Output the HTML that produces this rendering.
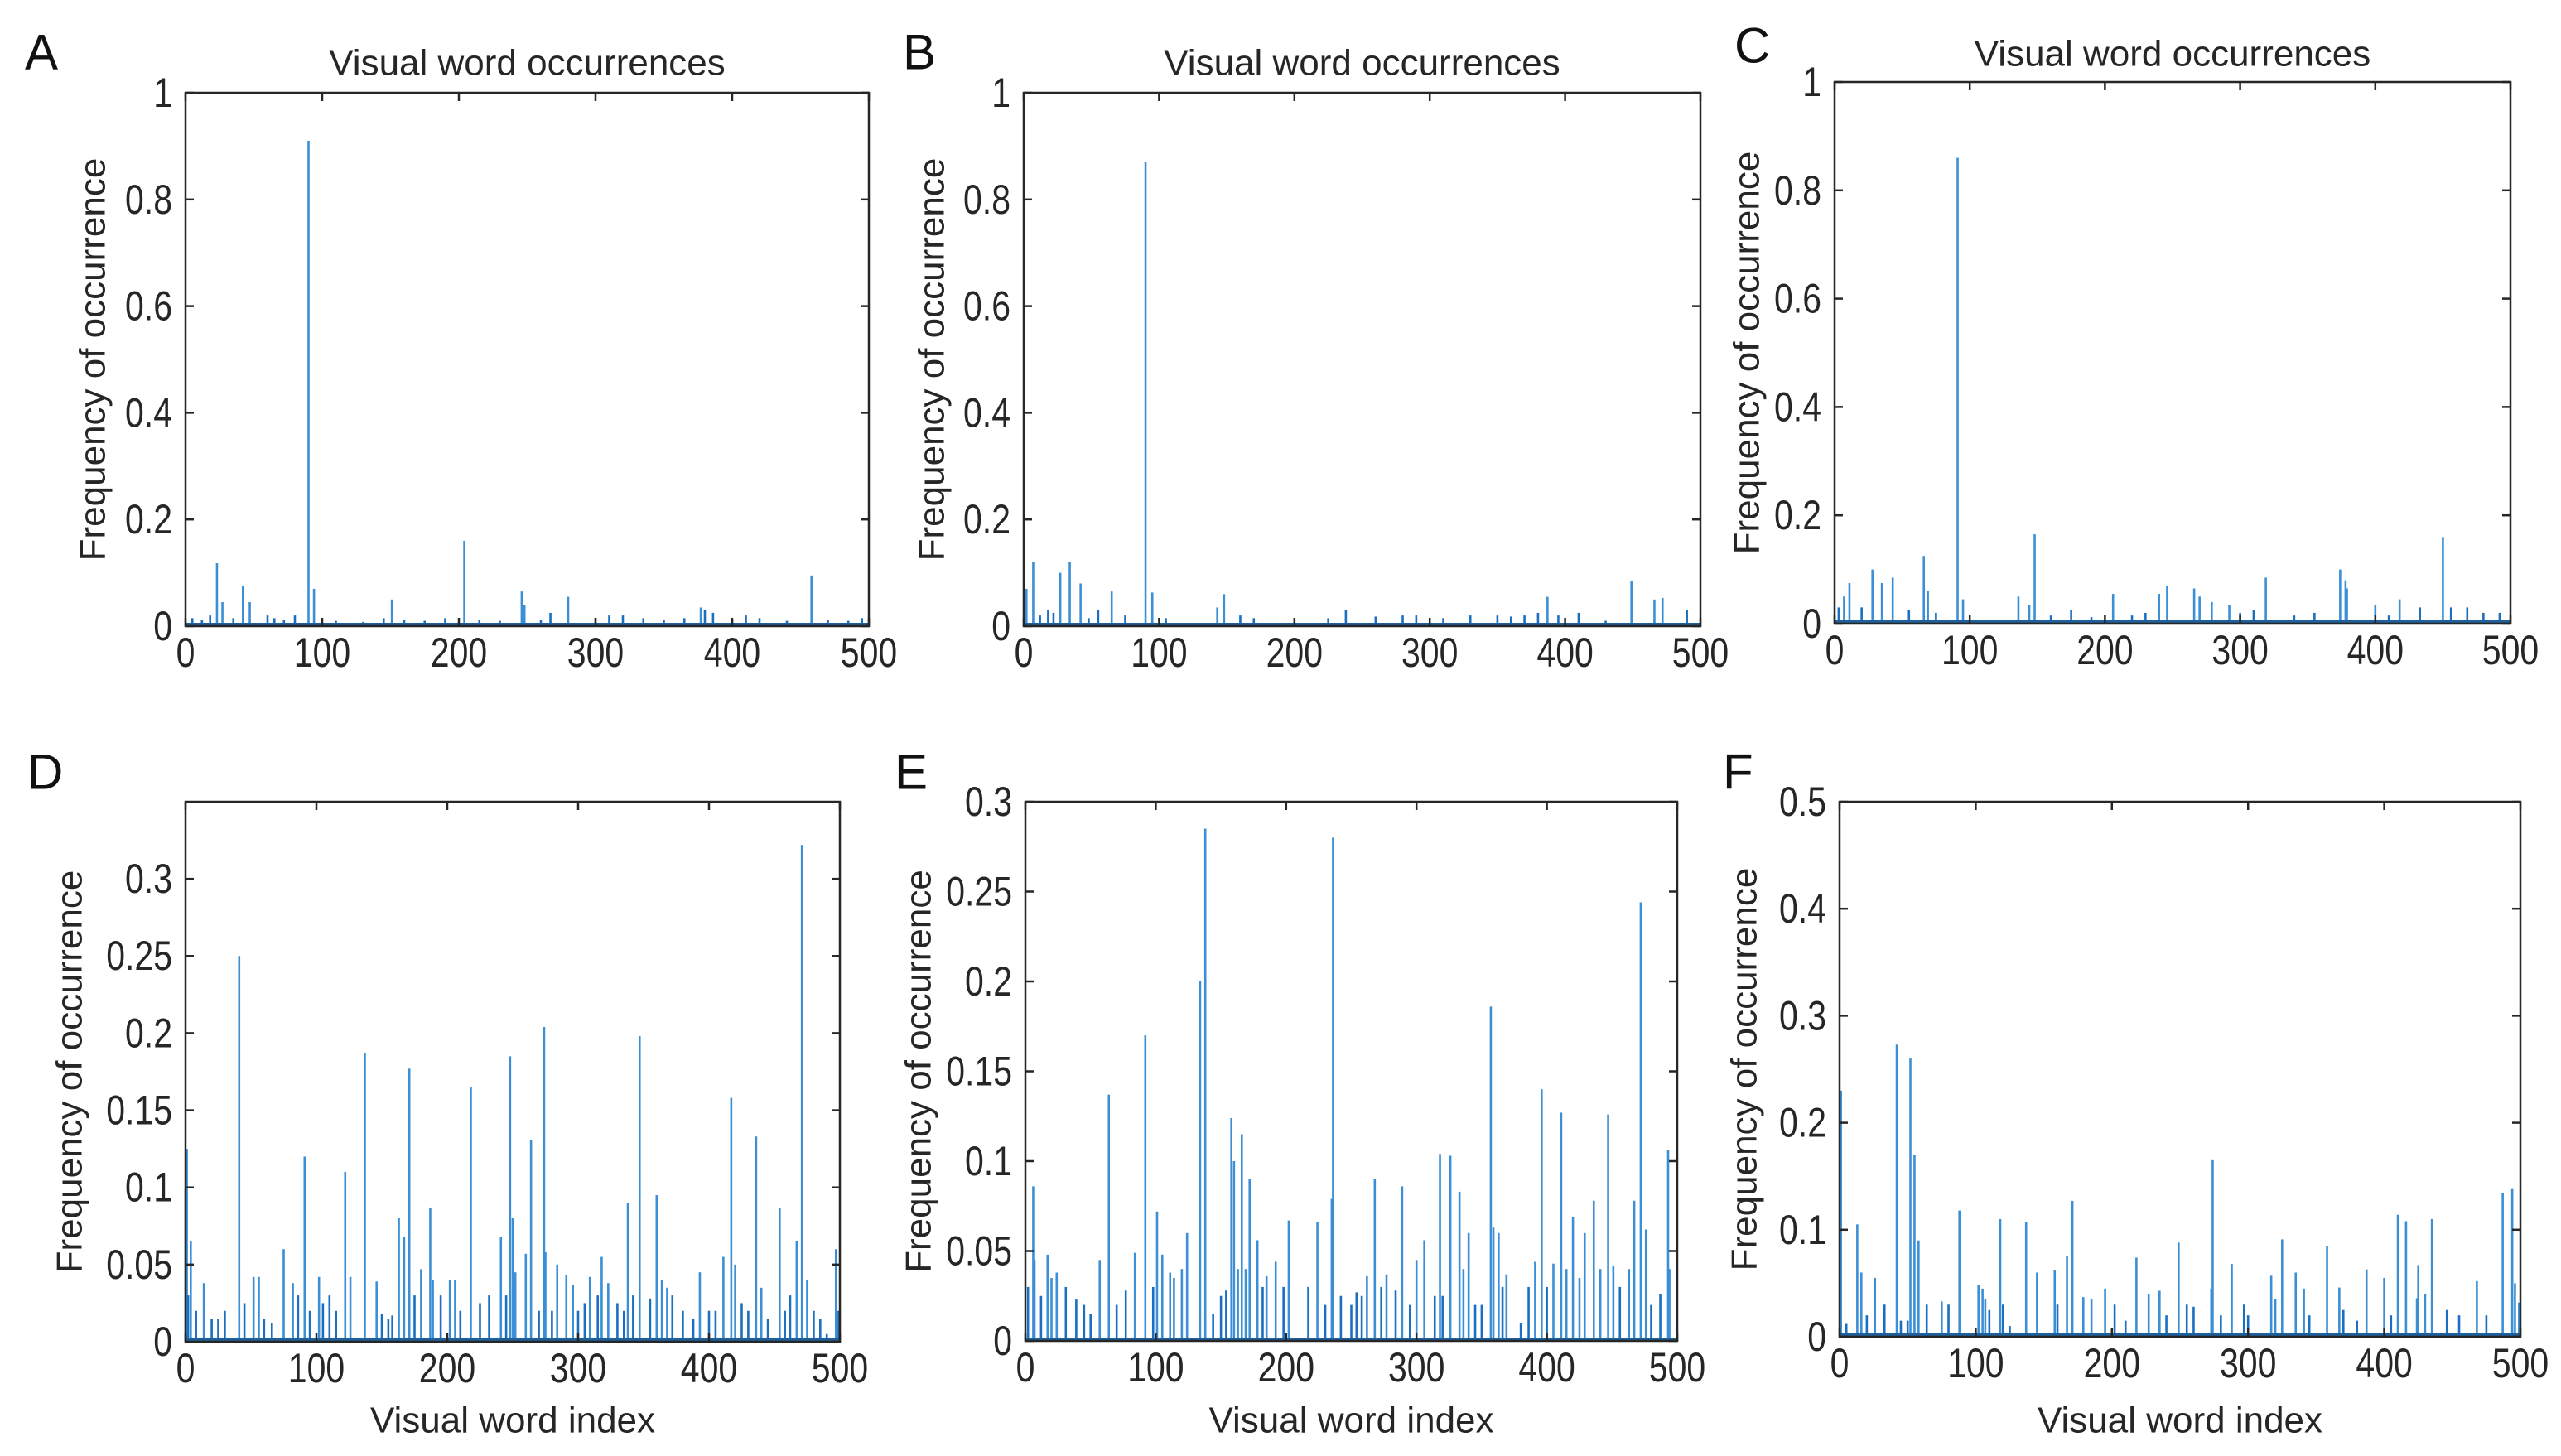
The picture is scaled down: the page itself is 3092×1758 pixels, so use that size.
<!DOCTYPE html>
<html><head><meta charset="utf-8"><title>Visual word occurrences</title>
<style>
html,body{margin:0;padding:0;background:#fff;}
svg{display:block;font-family:"Liberation Sans",Arial,sans-serif;}
</style></head>
<body>
<svg id="fig" width="3092" height="1758" viewBox="0 0 3092 1758" xmlns="http://www.w3.org/2000/svg"></svg>
<script>
// ---- Data: visual word indices and frequencies ----
const xTickLabels = ["0","100","200","300","400","500"];
const yTicksTop = [0,0.2,0.4,0.6,0.8,1];
const yTickLabelsTop = ["0","0.2","0.4","0.6","0.8","1"];
const yTicksD = [0,0.05,0.1,0.15,0.2,0.25,0.3];
const yTickLabelsD = ["0","0.05","0.1","0.15","0.2","0.25","0.3"];
const yTicksE = [0,0.05,0.1,0.15,0.2,0.25,0.3];
const yTickLabelsE = ["0","0.05","0.1","0.15","0.2","0.25","0.3"];
const yTicksF = [0,0.1,0.2,0.3,0.4,0.5];
const yTickLabelsF = ["0","0.1","0.2","0.3","0.4","0.5"];

const idxA = [23,27,42,47,90,94,151,204,246,248,267,280,377,380,386,458,5,12,18,35,60,65,72,80,110,130,145,160,175,190,215,230,260,300,310,320,335,350,365,400,410,420,440,470,485,495];
const valA = [0.118,0.045,0.075,0.045,0.91,0.07,0.05,0.16,0.065,0.04,0.025,0.055,0.035,0.03,0.025,0.095,0.015,0.012,0.02,0.015,0.02,0.015,0.012,0.02,0.01,0.008,0.015,0.012,0.01,0.015,0.012,0.01,0.012,0.015,0.02,0.02,0.015,0.012,0.015,0.012,0.02,0.015,0.01,0.012,0.01,0.015];

const idxB = [2,7,18,27,34,42,55,65,90,95,143,148,238,387,449,466,472,490,12,22,48,75,105,160,170,200,225,260,280,290,310,330,350,360,370,380,395,410,430];
const valB = [0.07,0.12,0.03,0.1,0.12,0.08,0.03,0.065,0.87,0.063,0.035,0.06,0.03,0.055,0.085,0.05,0.053,0.03,0.02,0.025,0.015,0.02,0.015,0.02,0.015,0.01,0.015,0.018,0.02,0.02,0.015,0.02,0.02,0.018,0.02,0.025,0.02,0.025,0.01];

const idxC = [7,11,28,35,43,66,69,91,95,136,144,148,206,240,246,266,270,279,292,319,374,378,379,400,418,433,450,456,468,492,3,20,55,75,160,175,190,220,230,300,310,340,355,410,480];
const valC = [0.05,0.075,0.1,0.075,0.085,0.125,0.06,0.86,0.045,0.05,0.035,0.165,0.055,0.055,0.07,0.065,0.05,0.04,0.035,0.085,0.1,0.08,0.065,0.035,0.045,0.03,0.16,0.03,0.03,0.02,0.03,0.03,0.025,0.02,0.015,0.025,0.012,0.015,0.02,0.02,0.025,0.015,0.02,0.015,0.02];

const idxD = [0,1,4,14,41,52,56,75,82,91,102,126,122,137,146,163,167,171,180,187,189,202,206,218,232,241,248,250,260,264,274,275,284,291,296,309,318,323,338,347,360,364,393,411,417,420,436,440,454,462,467,471,475,497,2,8,20,25,30,45,60,66,86,95,105,110,115,150,155,158,175,195,210,225,245,252,270,280,300,305,315,330,335,342,355,368,372,380,388,400,405,425,430,445,458,480,485,490,499];
const valD = [0.1,0.125,0.065,0.038,0.25,0.042,0.042,0.06,0.038,0.12,0.042,0.042,0.11,0.187,0.039,0.08,0.068,0.177,0.047,0.087,0.04,0.04,0.04,0.165,0.03,0.068,0.185,0.08,0.057,0.131,0.204,0.058,0.05,0.043,0.037,0.042,0.055,0.038,0.09,0.198,0.095,0.04,0.045,0.055,0.158,0.05,0.133,0.035,0.087,0.03,0.065,0.322,0.04,0.06,0.03,0.02,0.015,0.015,0.02,0.025,0.015,0.012,0.03,0.02,0.025,0.03,0.02,0.018,0.015,0.017,0.03,0.03,0.02,0.025,0.03,0.045,0.02,0.02,0.02,0.025,0.03,0.025,0.02,0.03,0.028,0.035,0.03,0.02,0.015,0.02,0.02,0.025,0.02,0.015,0.02,0.02,0.015,0.005,0.02];

const idxE = [6,7,17,24,31,39,57,64,77,84,92,101,105,111,120,124,134,138,144,154,158,160,166,172,178,185,192,202,217,224,235,236,242,254,262,268,277,284,289,300,306,314,318,326,333,340,345,357,359,363,369,386,391,396,405,411,420,429,436,447,451,463,467,472,476,487,493,494,2,12,20,45,50,70,98,114,150,163,169,182,198,230,250,258,273,295,320,336,350,366,380,400,415,425,441,456,480];
const valE = [0.086,0.045,0.048,0.038,0.03,0.023,0.045,0.137,0.028,0.049,0.17,0.072,0.048,0.038,0.04,0.06,0.2,0.285,0.015,0.028,0.124,0.1,0.115,0.09,0.056,0.036,0.044,0.067,0.03,0.066,0.079,0.28,0.025,0.027,0.036,0.09,0.037,0.028,0.086,0.045,0.056,0.025,0.104,0.103,0.083,0.06,0.02,0.186,0.063,0.06,0.037,0.03,0.044,0.14,0.043,0.127,0.069,0.06,0.078,0.126,0.042,0.04,0.078,0.244,0.062,0.026,0.106,0.04,0.03,0.025,0.035,0.02,0.015,0.02,0.03,0.035,0.025,0.04,0.04,0.03,0.03,0.02,0.02,0.025,0.03,0.02,0.025,0.04,0.02,0.03,0.01,0.03,0.04,0.035,0.04,0.03,0.02];

const idxF = [1,13,16,26,33,42,52,55,58,64,75,88,102,105,107,118,137,145,158,167,171,179,195,202,218,227,235,249,255,273,274,288,297,317,325,335,341,358,367,387,400,410,416,424,425,435,446,468,487,494,496,499,5,20,45,50,80,110,120,125,160,185,210,240,260,280,300,320,345,370,380,405,430,455,475];
const valF = [0.23,0.105,0.06,0.055,0.03,0.273,0.26,0.17,0.09,0.03,0.033,0.118,0.048,0.045,0.035,0.11,0.107,0.06,0.062,0.075,0.127,0.037,0.045,0.03,0.074,0.04,0.043,0.088,0.03,0.045,0.165,0.068,0.03,0.057,0.091,0.06,0.045,0.085,0.046,0.063,0.055,0.114,0.108,0.036,0.067,0.11,0.025,0.052,0.134,0.138,0.05,0.032,0.012,0.02,0.015,0.015,0.03,0.025,0.03,0.01,0.03,0.035,0.015,0.02,0.028,0.02,0.02,0.035,0.02,0.025,0.015,0.02,0.04,0.02,0.02];

const NS = "http://www.w3.org/2000/svg";
const svg = document.getElementById('fig');
function mk(tag, attrs, parent){
  const e = document.createElementNS(NS, tag);
  for (const k in attrs) e.setAttribute(k, attrs[k]);
  (parent||svg).appendChild(e);
  return e;
}
function txt(s, x, y, size, anchor, parent, sx, rot){
  const t = mk('text', {'font-size':size,'fill':'#262626','text-anchor':anchor||'middle','dominant-baseline':'central',
    transform:'translate('+x+','+y+')'+(rot?' rotate('+rot+')':'')+(sx?' scale('+sx+',1)':'')}, parent);
  t.textContent = s;
  return t;
}

const panels = [
 {id:'a',letter:'A',lx:30,ly:63,L:224,R:1049,T:112,B:756,ymax:1,ticks:yTicksTop,labs:yTickLabelsTop,idx:idxA,val:valA,title:true,ty:76,ylx:112,xlabel:false},
 {id:'b',letter:'B',lx:1090,ly:63,L:1236,R:2053,T:112,B:756,ymax:1,ticks:yTicksTop,labs:yTickLabelsTop,idx:idxB,val:valB,title:true,ty:76,ylx:1125,xlabel:false},
 {id:'c',letter:'C',lx:2094,ly:55,L:2215,R:3031,T:99,B:753,ymax:1,ticks:yTicksTop,labs:yTickLabelsTop,idx:idxC,val:valC,title:true,ty:65,ylx:2109,xlabel:false},
 {id:'d',letter:'D',lx:33,ly:932,L:224,R:1014,T:968,B:1620,ymax:0.35,ticks:yTicksD,labs:yTickLabelsD,idx:idxD,val:valD,title:false,ylx:84,xlabel:true},
 {id:'e',letter:'E',lx:1080,ly:932,L:1238,R:2025,T:968,B:1619,ymax:0.3,ticks:yTicksE,labs:yTickLabelsE,idx:idxE,val:valE,title:false,ylx:1109,xlabel:true},
 {id:'f',letter:'F',lx:2080,ly:932,L:2221,R:3043,T:968,B:1614,ymax:0.5,ticks:yTicksF,labs:yTickLabelsF,idx:idxF,val:valF,title:false,ylx:2106,xlabel:true}
];

panels.forEach(p=>{
  const g = mk('g',{});
  
  
  const xs = v => p.L + (v/500)*(p.R-p.L);
  const ys = v => p.B - (v/p.ymax)*(p.B-p.T);
  // letter
  const lt = mk('text',{x:p.lx,y:p.ly,'font-size':60,'fill':'#111','dominant-baseline':'central'},g);
  lt.textContent = p.letter;
  
  
  // bars
  const bars = mk('g',{},g);
  
  
  p.idx.forEach((ix,k)=>{
    const v = p.val[k];
    const y = ys(v);
    const r = mk('rect',{x:xs(ix)-1.3,y:y,width:2.6,height:p.B-y,fill: v>0.03?'#3a8fd6':'#1a6fc0'},bars);
    
    
  });
  // baseline dense strip
  const bl = mk('rect',{x:p.L,y:p.B-4,width:p.R-p.L,height:4,fill:'#1f5f9a'},g);
  
  
  // axes box
  const box = mk('rect',{x:p.L,y:p.T,width:p.R-p.L,height:p.B-p.T,fill:'none',stroke:'#262626','stroke-width':2.5},g);
  
  
  // x ticks
  const xt = mk('g',{},g);
  
  
  const tly = p.B + 32;
  xTickLabels.forEach((s,k)=>{
    const v = k*100, x = xs(v);
    mk('line',{x1:x,x2:x,y1:p.B,y2:p.B-10,stroke:'#262626','stroke-width':2.5},xt);
    mk('line',{x1:x,x2:x,y1:p.T,y2:p.T+10,stroke:'#262626','stroke-width':2.5},xt);
    const t = txt(s,x,tly,50,'middle',xt,0.82);
    
    
  });
  // y ticks
  const yt = mk('g',{},g);
  
  
  p.ticks.forEach((v,k)=>{
    const y = ys(v);
    mk('line',{x1:p.L,x2:p.L+10,y1:y,y2:y,stroke:'#262626','stroke-width':2.5},yt);
    mk('line',{x1:p.R,x2:p.R-10,y1:y,y2:y,stroke:'#262626','stroke-width':2.5},yt);
    const t = txt(p.labs[k],p.L-16,y,50,'end',yt,0.82);
    
    
  });
  // y label
  const yl = txt('Frequency of occurrence',p.ylx,(p.T+p.B)/2,44,'middle',g,0,-90);
  
  
  if (p.title){
    const tt = txt('Visual word occurrences',(p.L+p.R)/2,p.ty,44,'middle',g);
    
    
  }
  if (p.xlabel){
    const xl = txt('Visual word index',(p.L+p.R)/2,1715,44,'middle',g);
    
    
  }
});
</script>
</body></html>
